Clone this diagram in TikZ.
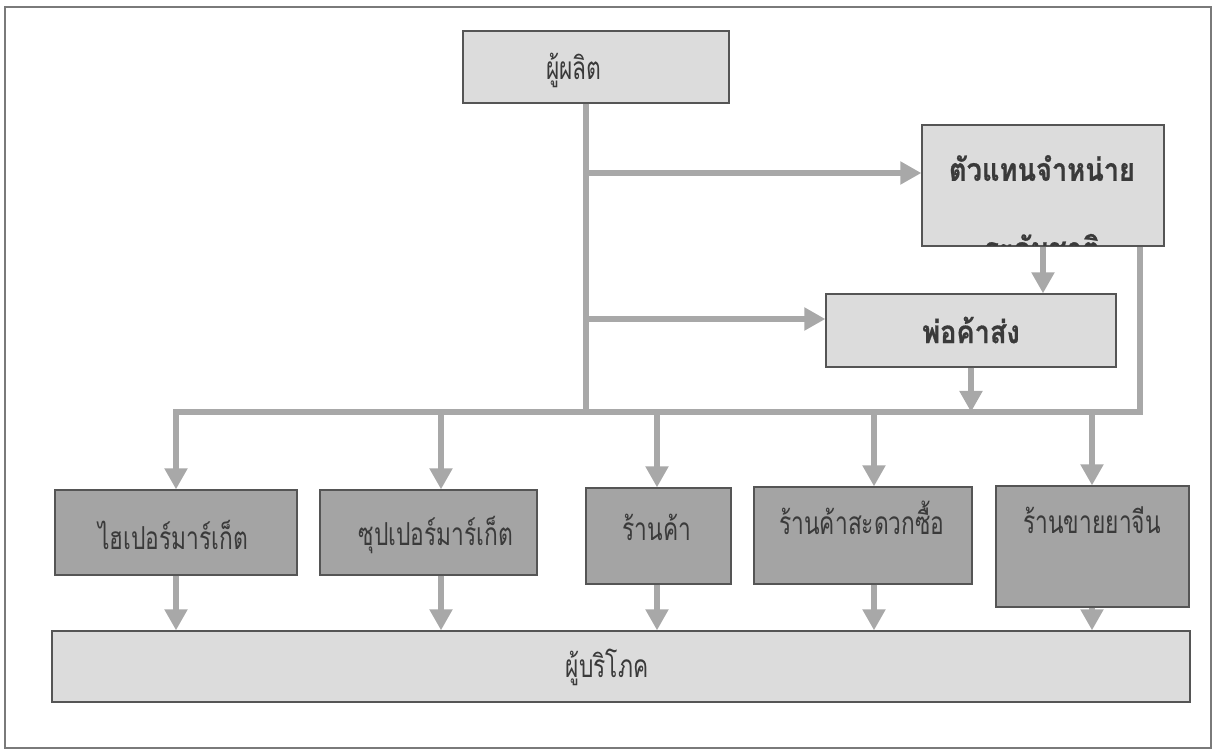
\documentclass[tikz,border=0pt]{standalone}
\usepackage{fontspec}
\newfontfamily\thai[Script=Thai, FakeStretch=0.72]{Loma}
\newfontfamily\thaibold[Script=Thai, FakeStretch=0.86, FakeBold=0.6]{Loma}
\usetikzlibrary{arrows.meta,fit}

\definecolor{boxline}{HTML}{555555}
\definecolor{lightfill}{HTML}{DCDCDC}
\definecolor{darkfill}{HTML}{A4A4A4}
\definecolor{flowgray}{HTML}{A8A8A8}
\definecolor{inkgray}{HTML}{3A3A3A}
\definecolor{framegray}{HTML}{7A7A7A}

\begin{document}
\begin{tikzpicture}[x=0.02cm, y=-0.02cm,
        box/.style = {draw=boxline, line width=0.7pt, inner sep=0pt},
        light/.style = {box, fill=lightfill},
        dark/.style = {box, fill=darkfill},
        txt/.style = {font=\thai\fontsize{18}{21}\selectfont, text=inkgray, inner sep=0pt},
        txtb/.style = {txt, font=\thaibold\bfseries\fontsize{18}{21}\selectfont},
        link/.style = {draw=flowgray, line width=3.4pt},
        flow/.style = {link, -{Triangle[width=12.5pt,length=12pt]}}]
    \useasboundingbox (0,0) rectangle (1218,751);
    \draw[framegray, line width=1.2pt] (5,7) rectangle (1211,748);

    % top of the chain
    \node[light, fit={(463,31) (729,103)}] (producer) {};
    \node[txt] (producerlbl) at (574,70) {ผู้ผลิต};
    \node[light, fit={(922,125) (1164,246)}] (agent) {};
    \node[txtb] (agentlbl) at (1042,168) {ตัวแทนจำหน่าย};
    \begin{scope}
        \clip (923,126) rectangle (1163,245);
        \node[txtb] (agentrest) at (1042,247) {ระดับชาติ};
    \end{scope}
    \node[light, fit={(826,294) (1116,367)}] (wholesaler) {};
    \node[txtb] (wholesalerlbl) at (971,330) {พ่อค้าส่ง};

    % retail outlets
    \node[dark, fit={(55,490) (297,575)}] (hyper) {};
    \node[txt] (hyperlbl) at (173,535) {ไฮเปอร์มาร์เก็ต};
    \node[dark, fit={(320,490) (537,575)}] (super) {};
    \node[txt] (superlbl) at (436,535) {ซุปเปอร์มาร์เก็ต};
    \node[dark, fit={(586,488) (731,584)}] (shop) {};
    \node[txt] (shoplbl) at (657,527) {ร้านค้า};
    \node[dark, fit={(754,487) (972,584)}] (conv) {};
    \node[txt] (convlbl) at (862,518) {ร้านค้าสะดวกซื้อ};
    \node[dark, fit={(996,486) (1189,607)}] (herbal) {};
    \node[txt] (herballbl) at (1092,520) {ร้านขายยาจีน};

    \node[light, fit={(52,631) (1190,702)}] (consumer) {};
    \node[txt] (consumerlbl) at (607,667) {ผู้บริโภค};

    % connectors
    \coordinate (busL) at (176,412);
    \coordinate (busR) at (1140,412);
    \coordinate (trunk) at (586,412);
    \coordinate (toagent) at (586,173);
    \coordinate (towhole) at (586,319);

    \draw[link] (producer.south -| trunk) -- (trunk);
    \draw[flow] (toagent) -- (toagent -| agent.west);
    \draw[flow] (towhole) -- (towhole -| wholesaler.west);
    \draw[flow] (agent.south) -- (agent.south |- wholesaler.north);
    \draw[flow] (wholesaler.south) -- (wholesaler.south |- busL);
    \draw[flow] (agent.south -| busR) -- (busR) -- (busL) -- (busL |- hyper.north);
    \foreach \x/\b in {441/super, 657/shop, 874/conv, 1092/herbal}
        \draw[flow] (\x,412) -- (\x,0 |- \b.north);
    \foreach \x/\b in {176/hyper, 441/super, 657/shop, 874/conv, 1092/herbal}
        \draw[flow] (\x,0 |- \b.south) -- (\x,0 |- consumer.north);
\end{tikzpicture}
\end{document}
